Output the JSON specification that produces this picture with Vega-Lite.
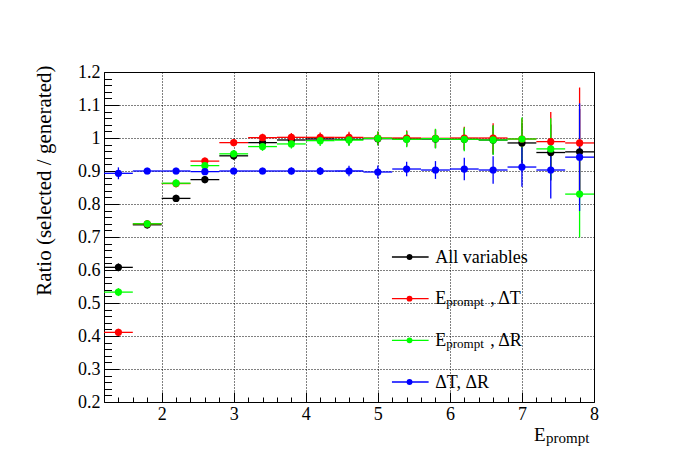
{
  "$schema": "https://vega.github.io/schema/vega-lite/v6.json",
  "width": 490,
  "height": 330,
  "autosize": {"type": "none"},
  "padding": {"left": 104, "top": 72, "right": 104, "bottom": 72},
  "background": "white",
  "config": {
    "view": {"stroke": "black", "strokeWidth": 1},
    "font": "Liberation Serif",
    "text": {"font": "Liberation Serif"},
    "axis": {
      "labelFont": "Liberation Serif",
      "titleFont": "Liberation Serif",
      "labelColor": "black",
      "titleColor": "black",
      "titleFontWeight": "normal",
      "tickColor": "black",
      "tickWidth": 1,
      "domainColor": "black",
      "gridColor": "black",
      "gridOpacity": 1,
      "gridDash": [1, 2],
      "gridWidth": 1,
      "labelFlush": false,
      "labelOverlap": false,
      "labelBound": false
    }
  },
  "data": {
    "values": [
      {"s": "all", "x": 1.4, "y": 0.608, "err": 0.012},
      {"s": "all", "x": 1.8, "y": 0.737, "err": 0.011},
      {"s": "all", "x": 2.2, "y": 0.817, "err": 0.011},
      {"s": "all", "x": 2.6, "y": 0.874, "err": 0.011},
      {"s": "all", "x": 3.0, "y": 0.946, "err": 0.012},
      {"s": "all", "x": 3.4, "y": 0.986, "err": 0.013},
      {"s": "all", "x": 3.8, "y": 0.994, "err": 0.014},
      {"s": "all", "x": 4.2, "y": 0.997, "err": 0.016},
      {"s": "all", "x": 4.6, "y": 0.996, "err": 0.018},
      {"s": "all", "x": 5.0, "y": 0.998, "err": 0.02},
      {"s": "all", "x": 5.4, "y": 0.997, "err": 0.023},
      {"s": "all", "x": 5.8, "y": 0.997, "err": 0.027},
      {"s": "all", "x": 6.2, "y": 0.996, "err": 0.033},
      {"s": "all", "x": 6.6, "y": 0.994, "err": 0.044},
      {"s": "all", "x": 7.0, "y": 0.985, "err": 0.06},
      {"s": "all", "x": 7.4, "y": 0.956, "err": 0.085},
      {"s": "all", "x": 7.8, "y": 0.958, "err": 0.13},
      {"s": "et", "x": 1.4, "y": 0.411, "err": 0.011},
      {"s": "et", "x": 1.8, "y": 0.74, "err": 0.011},
      {"s": "et", "x": 2.2, "y": 0.862, "err": 0.011},
      {"s": "et", "x": 2.6, "y": 0.93, "err": 0.011},
      {"s": "et", "x": 3.0, "y": 0.986, "err": 0.011},
      {"s": "et", "x": 3.4, "y": 1.001, "err": 0.012},
      {"s": "et", "x": 3.8, "y": 1.002, "err": 0.013},
      {"s": "et", "x": 4.2, "y": 1.002, "err": 0.015},
      {"s": "et", "x": 4.6, "y": 1.002, "err": 0.017},
      {"s": "et", "x": 5.0, "y": 1.0, "err": 0.02},
      {"s": "et", "x": 5.4, "y": 1.0, "err": 0.023},
      {"s": "et", "x": 5.8, "y": 0.999, "err": 0.028},
      {"s": "et", "x": 6.2, "y": 1.0, "err": 0.034},
      {"s": "et", "x": 6.6, "y": 1.0, "err": 0.045},
      {"s": "et", "x": 7.0, "y": 0.997, "err": 0.062},
      {"s": "et", "x": 7.4, "y": 0.989, "err": 0.09},
      {"s": "et", "x": 7.8, "y": 0.985, "err": 0.168},
      {"s": "er", "x": 1.4, "y": 0.533, "err": 0.012},
      {"s": "er", "x": 1.8, "y": 0.74, "err": 0.011},
      {"s": "er", "x": 2.2, "y": 0.863, "err": 0.012},
      {"s": "er", "x": 2.6, "y": 0.916, "err": 0.012},
      {"s": "er", "x": 3.0, "y": 0.952, "err": 0.012},
      {"s": "er", "x": 3.4, "y": 0.974, "err": 0.013},
      {"s": "er", "x": 3.8, "y": 0.982, "err": 0.014},
      {"s": "er", "x": 4.2, "y": 0.992, "err": 0.016},
      {"s": "er", "x": 4.6, "y": 0.994, "err": 0.018},
      {"s": "er", "x": 5.0, "y": 0.999, "err": 0.021},
      {"s": "er", "x": 5.4, "y": 0.996, "err": 0.024},
      {"s": "er", "x": 5.8, "y": 0.998, "err": 0.03},
      {"s": "er", "x": 6.2, "y": 0.996, "err": 0.036},
      {"s": "er", "x": 6.6, "y": 0.994, "err": 0.045},
      {"s": "er", "x": 7.0, "y": 0.997, "err": 0.065},
      {"s": "er", "x": 7.4, "y": 0.967, "err": 0.093},
      {"s": "er", "x": 7.8, "y": 0.83, "err": 0.131},
      {"s": "tr", "x": 1.4, "y": 0.893, "err": 0.018},
      {"s": "tr", "x": 1.8, "y": 0.9, "err": 0.01},
      {"s": "tr", "x": 2.2, "y": 0.9, "err": 0.01},
      {"s": "tr", "x": 2.6, "y": 0.898, "err": 0.01},
      {"s": "tr", "x": 3.0, "y": 0.9, "err": 0.01},
      {"s": "tr", "x": 3.4, "y": 0.9, "err": 0.01},
      {"s": "tr", "x": 3.8, "y": 0.9, "err": 0.011},
      {"s": "tr", "x": 4.2, "y": 0.9, "err": 0.012},
      {"s": "tr", "x": 4.6, "y": 0.9, "err": 0.016},
      {"s": "tr", "x": 5.0, "y": 0.897, "err": 0.02},
      {"s": "tr", "x": 5.4, "y": 0.906, "err": 0.022},
      {"s": "tr", "x": 5.8, "y": 0.903, "err": 0.027},
      {"s": "tr", "x": 6.2, "y": 0.906, "err": 0.034},
      {"s": "tr", "x": 6.6, "y": 0.903, "err": 0.042},
      {"s": "tr", "x": 7.0, "y": 0.912, "err": 0.06},
      {"s": "tr", "x": 7.4, "y": 0.903, "err": 0.086},
      {"s": "tr", "x": 7.8, "y": 0.942, "err": 0.163}
    ]
  },
  "layer": [
    {
      "layer": [
        {
          "encoding": {
            "x": {
              "field": "x",
              "type": "quantitative",
              "scale": {"domain": [1.2, 8], "nice": false, "zero": false},
              "axis": {
                "orient": "bottom",
                "values": [2, 3, 4, 5, 6, 7, 8],
                "format": "d",
                "labelFontSize": 18,
                "offset": -10,
                "tickSize": 10,
                "labelPadding": 3,
                "grid": true,
                "domain": false,
                "title": "E",
                "titleFontSize": 19,
                "titleX": 441,
                "titleY": 48,
                "titleAlign": "right",
                "titleBaseline": "alphabetic"
              }
            },
            "y": {
              "field": "y",
              "type": "quantitative",
              "scale": {"domain": [0.2, 1.2], "nice": false, "zero": false},
              "axis": {
                "orient": "left",
                "values": [0.2, 0.3, 0.4, 0.5, 0.6, 0.7, 0.8, 0.9, 1.0, 1.1, 1.2],
                "format": ".2~f",
                "labelFontSize": 18,
                "offset": -15,
                "tickSize": 15,
                "labelPadding": 4,
                "grid": true,
                "domain": false,
                "title": "Ratio (selected / generated)",
                "titleFontSize": 21,
                "titleAngle": -90,
                "titleX": -69,
                "titleY": -7,
                "titleAlign": "right",
                "titleBaseline": "alphabetic"
              }
            },
            "color": {
              "field": "s",
              "type": "nominal",
              "scale": {
                "domain": ["all", "et", "er", "tr"],
                "range": ["#000000", "#ff0000", "#00ff00", "#0000ff"]
              },
              "legend": null
            }
          },
          "layer": [
            {"mark": {"type": "tick", "orient": "horizontal", "size": 28.8, "thickness": 1.3, "opacity": 1}},
            {"mark": {"type": "errorbar", "thickness": 1.3}, "encoding": {"yError": {"field": "err"}}}
          ]
        },
        {
          "mark": {"type": "point", "shape": "circle", "filled": true, "size": 52, "opacity": 1},
          "encoding": {
            "x": {
              "field": "x",
              "type": "quantitative",
              "scale": {"domain": [1.2, 8], "nice": false, "zero": false},
              "axis": {
                "orient": "bottom",
                "values": [1.4, 1.6, 1.8, 2.2, 2.4, 2.6, 2.8, 3.2, 3.4, 3.6, 3.8, 4.2, 4.4, 4.6, 4.8, 5.2, 5.4, 5.6, 5.8, 6.2, 6.4, 6.6, 6.8, 7.2, 7.4, 7.6, 7.8],
                "labels": false,
                "grid": false,
                "domain": false,
                "offset": -5,
                "tickSize": 5,
                "title": "prompt",
                "titleFontSize": 15,
                "titleX": 441.5,
                "titleY": 45,
                "titleAlign": "left",
                "titleBaseline": "alphabetic"
              }
            },
            "y": {
              "field": "y",
              "type": "quantitative",
              "scale": {"domain": [0.2, 1.2], "nice": false, "zero": false},
              "axis": {
                "orient": "left",
                "values": [0.22, 0.24, 0.26, 0.28, 0.32, 0.34, 0.36, 0.38, 0.42, 0.44, 0.46, 0.48, 0.52, 0.54, 0.56, 0.58, 0.62, 0.64, 0.66, 0.68, 0.72, 0.74, 0.76, 0.78, 0.82, 0.84, 0.86, 0.88, 0.92, 0.94, 0.96, 0.98, 1.02, 1.04, 1.06, 1.08, 1.12, 1.14, 1.16, 1.18],
                "labels": false,
                "grid": false,
                "domain": false,
                "offset": -7.5,
                "tickSize": 7.5,
                "title": null
              }
            },
            "color": {"field": "s", "type": "nominal", "legend": null}
          }
        }
      ],
      "resolve": {"axis": {"x": "independent", "y": "independent"}}
    },
    {
      "data": {
        "values": [
          {"s": "all", "head": "All variables", "sub": "", "tail": ""},
          {"s": "et", "head": "E", "sub": "prompt", "tail": ", ΔT"},
          {"s": "er", "head": "E", "sub": "prompt", "tail": ", ΔR"},
          {"s": "tr", "head": "ΔT, ΔR", "sub": "", "tail": ""}
        ]
      },
      "encoding": {
        "y": {
          "field": "s",
          "type": "nominal",
          "scale": {"type": "point", "domain": ["all", "et", "er", "tr"], "range": [185, 310], "padding": 0},
          "axis": null
        }
      },
      "layer": [
        {
          "mark": {"type": "rule", "strokeWidth": 1.3},
          "encoding": {
            "x": {"datum": 5.196, "type": "quantitative", "axis": null},
            "x2": {"datum": 5.705},
            "color": {"field": "s", "type": "nominal", "legend": null}
          }
        },
        {
          "mark": {"type": "point", "shape": "circle", "filled": true, "size": 34, "opacity": 1},
          "encoding": {
            "x": {"datum": 5.44, "type": "quantitative", "axis": null},
            "color": {"field": "s", "type": "nominal", "legend": null}
          }
        },
        {
          "mark": {"type": "text", "align": "left", "baseline": "alphabetic", "dy": 5.5, "fontSize": 18, "font": "Liberation Serif"},
          "encoding": {
            "x": {"datum": 5.797, "type": "quantitative", "axis": null},
            "text": {"field": "head"},
            "color": {"value": "black"}
          }
        },
        {
          "transform": [{"filter": "datum.sub != ''"}],
          "mark": {"type": "text", "align": "left", "baseline": "alphabetic", "dx": 11, "dy": 7.5, "fontSize": 13, "font": "Liberation Serif"},
          "encoding": {
            "x": {"datum": 5.797, "type": "quantitative", "axis": null},
            "text": {"field": "sub"},
            "color": {"value": "black"}
          }
        },
        {
          "transform": [{"filter": "datum.tail != ''"}],
          "mark": {"type": "text", "align": "left", "baseline": "alphabetic", "dx": 55, "dy": 5.5, "fontSize": 18, "font": "Liberation Serif"},
          "encoding": {
            "x": {"datum": 5.797, "type": "quantitative", "axis": null},
            "text": {"field": "tail"},
            "color": {"value": "black"}
          }
        }
      ]
    }
  ],
  "resolve": {"scale": {"y": "independent"}}
}
